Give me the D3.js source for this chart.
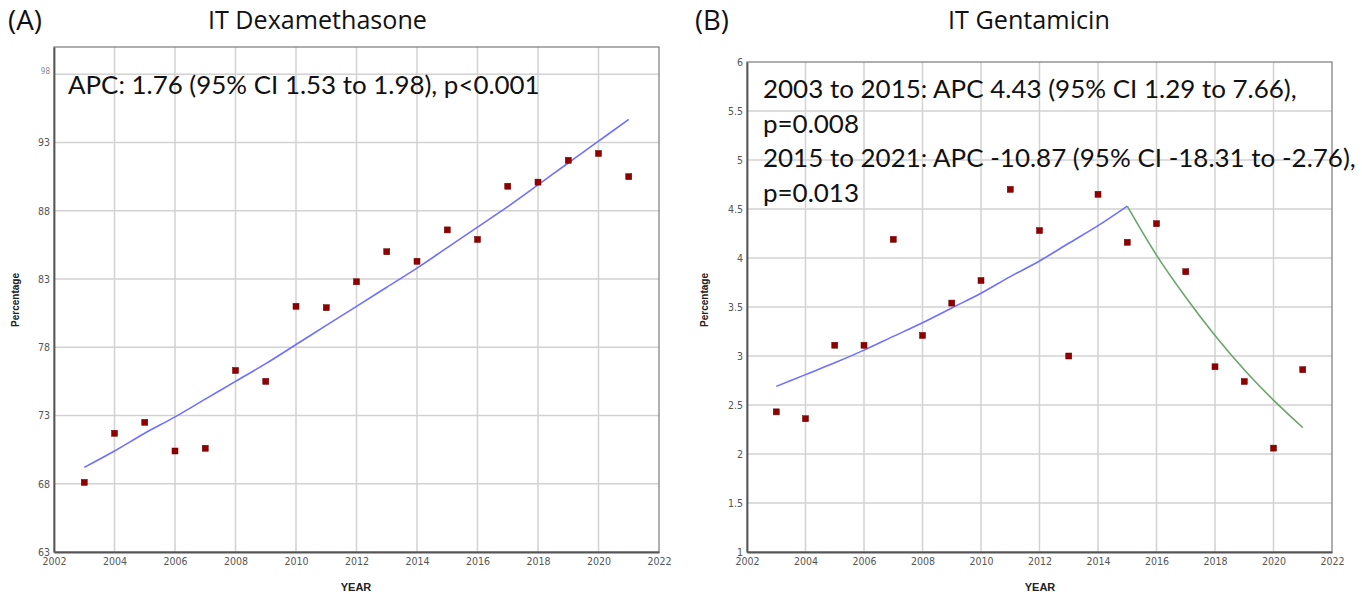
<!DOCTYPE html>
<html><head><meta charset="utf-8">
<script src="https://cdn.jsdelivr.net/npm/d3@7"></script>
<style>body{margin:0;background:#fff} svg{display:block}</style>
</head><body>
<svg id="c" width="1362" height="596"></svg>
<script>
// ---------- DATA ----------
const years = [2003,2004,2005,2006,2007,2008,2009,2010,2011,2012,2013,2014,2015,2016,2017,2018,2019,2020,2021];
const dexaObserved = [68.1,71.7,72.5,70.4,70.6,76.3,75.5,81.0,80.9,82.8,85.0,84.3,86.6,85.9,89.8,90.1,91.7,92.2,90.5];
const dexaFit      = [69.2,70.4,71.7,72.9,74.2,75.5,76.8,78.2,79.6,81.0,82.4,83.8,85.3,86.8,88.3,89.9,91.5,93.1,94.7];
const gentaObserved = [2.43,2.36,3.11,3.11,4.19,3.21,3.54,3.77,4.70,4.28,3.00,4.65,4.16,4.35,3.86,2.89,2.74,2.06,2.86];
const gentaSeg1Years = [2003,2004,2005,2006,2007,2008,2009,2010,2011,2012,2013,2014,2015];
const gentaSeg1Fit   = [2.69,2.81,2.93,3.06,3.20,3.34,3.49,3.64,3.81,3.97,4.15,4.33,4.53];
const gentaSeg2Years = [2015,2016,2017,2018,2019,2020,2021];
const gentaSeg2Fit   = [4.53,4.03,3.60,3.21,2.86,2.55,2.27];
const xTickLabels = [2002,2004,2006,2008,2010,2012,2014,2016,2018,2020,2022];
const dexaYTicks  = [63,68,73,78,83,88,93,98];
const gentaYTicks = [1,1.5,2,2.5,3,3.5,4,4.5,5,5.5,6];
const dexaNotes  = ["APC: 1.76 (95% CI 1.53 to 1.98), p<0.001"];
const gentaNotes = ["2003 to 2015: APC 4.43 (95% CI 1.29 to 7.66),","p=0.008","2015 to 2021: APC -10.87 (95% CI -18.31 to -2.76),","p=0.013"];

// ---------- DRAW ----------
const svg = d3.select("#c");
const tickFont = "'Liberation Sans Narrow','DejaVu Sans Condensed','Liberation Sans',sans-serif";
const textFont = "Lato,'Open Sans',sans-serif";
const titleFont = "'Open Sans',Lato,sans-serif";

function fit(sel, base, target){
  sel.attr("font-size",base);
  const w = sel.node().getComputedTextLength();
  sel.attr("font-size",base*target/w);
}

function panel(o){
  const g = svg.append("g");
  const x = d3.scaleLinear().domain([2002,2022]).range([o.left,o.right]);
  const y = d3.scaleLinear().domain(o.yDomain).range([o.bottom,o.top]);

  // gridlines
  g.append("g").selectAll("line").data(xTickLabels.slice(1,-1)).join("line")
    .attr("x1",d=>x(d)).attr("x2",d=>x(d)).attr("y1",o.top).attr("y2",o.bottom)
    .attr("stroke","#d2d2d2").attr("stroke-width",1.5);
  g.append("g").selectAll("line").data(o.yTicks.filter(v=>v>o.yDomain[0] && v<o.yDomain[1])).join("line")
    .attr("x1",o.left).attr("x2",o.right).attr("y1",d=>y(d)).attr("y2",d=>y(d))
    .attr("stroke","#d2d2d2").attr("stroke-width",1.5);

  // frame
  g.append("rect").attr("x",o.left).attr("y",o.top).attr("width",o.right-o.left).attr("height",o.bottom-o.top)
    .attr("fill","none").attr("stroke","#7a7a7a").attr("stroke-width",1.2);

  // axes
  const xa = g.append("g").attr("transform",`translate(0,${o.bottom})`)
    .call(d3.axisBottom(x).tickValues(xTickLabels).tickFormat(d3.format("d")).tickSize(0).tickPadding(6));
  const ya = g.append("g").attr("transform",`translate(${o.left},0)`)
    .call(d3.axisLeft(y).tickValues(o.yTicks).tickFormat(d=>String(d)).tickSize(0).tickPadding(4));
  [xa,ya].forEach(a=>{
    a.select(".domain").attr("stroke","#555").attr("stroke-width",1.8);
    a.selectAll("text").attr("font-family",tickFont).attr("font-size",10.5).attr("fill","#555");
  });
  if (o.smallTop) {
    ya.selectAll(".tick").filter(d=>d===o.smallTop).select("text")
      .attr("font-size",8).attr("dy","-0.1em").attr("fill","#888");
  }

  // fitted lines
  const line = d3.line().x(d=>x(d[0])).y(d=>y(d[1])).curve(d3.curveMonotoneX);
  o.fits.forEach(f=>{
    g.append("path").datum(d3.zip(f.years,f.values)).attr("d",line)
      .attr("fill","none").attr("stroke",f.color).attr("stroke-width",1.6);
  });

  // observed points
  g.append("g").selectAll("rect").data(d3.zip(years,o.observed)).join("rect")
    .attr("x",d=>x(d[0])-3).attr("y",d=>y(d[1])-3).attr("width",6).attr("height",6)
    .attr("fill","#900000").attr("stroke","#6a0000").attr("stroke-width",0.5);

  // titles / labels
  const tag = svg.append("text").attr("x",o.tagX).attr("y",30).text(o.tag)
    .attr("font-family",titleFont).attr("fill","#111");
  fit(tag, 22, 34);
  const title = svg.append("text").attr("x",o.titleX).attr("y",29).text(o.title)
    .attr("font-family",titleFont).attr("fill","#111");
  fit(title, 22, o.titleW);
  svg.append("text").attr("transform",`translate(${o.ylabX},300) rotate(-90)`).attr("text-anchor","middle")
    .text("Percentage").attr("font-family","'Liberation Sans',Arial,sans-serif").attr("font-weight","bold")
    .attr("font-size",10).attr("fill","#222");
  svg.append("text").attr("x",o.xlabX).attr("y",591).attr("text-anchor","middle")
    .text("YEAR").attr("font-family","'Liberation Sans Narrow','Liberation Sans',sans-serif").attr("font-weight","bold")
    .attr("font-size",11).attr("fill","#222");

  // annotation text
  const notes = svg.append("g");
  const ts = notes.selectAll("text").data(o.notes).join("text")
    .attr("x",o.noteX).attr("y",(d,i)=>o.noteY+i*o.noteStep).text(d=>d)
    .attr("font-family",textFont).attr("font-size",22).attr("fill","#111");
  const w = ts.node().getComputedTextLength();
  ts.attr("font-size",22*o.noteW/w);
}

panel({left:54,right:659,top:47,bottom:552,yDomain:[63,100],yTicks:dexaYTicks,observed:dexaObserved,
  fits:[{years:years,values:dexaFit,color:"#7070ff"}],smallTop:98,
  tag:"(A)",tagX:8,title:"IT Dexamethasone",titleX:208,titleW:219,ylabX:19,xlabX:356,
  notes:dexaNotes,noteX:68,noteY:94,noteStep:34,noteW:472});

panel({left:747,right:1332,top:62,bottom:552,yDomain:[1,6],yTicks:gentaYTicks,observed:gentaObserved,
  fits:[{years:gentaSeg1Years,values:gentaSeg1Fit,color:"#7070ff"},{years:gentaSeg2Years,values:gentaSeg2Fit,color:"#6aa66a"}],
  tag:"(B)",tagX:695,title:"IT Gentamicin",titleX:948,titleW:162,ylabX:708,xlabX:1040,
  notes:gentaNotes,noteX:763,noteY:98,noteStep:34.5,noteW:534});
</script>
</body></html>
